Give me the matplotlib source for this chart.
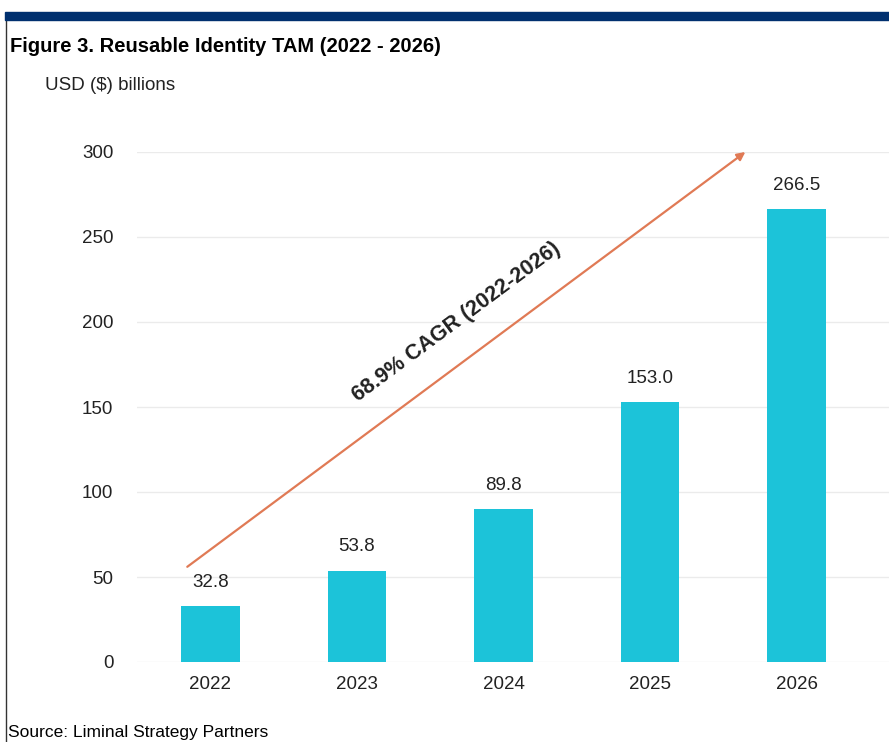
import matplotlib
matplotlib.use("Agg")
import matplotlib.pyplot as plt
from matplotlib.patches import Rectangle
from matplotlib.lines import Line2D

years = ["2022", "2023", "2024", "2025", "2026"]
values = [32.8, 53.8, 89.8, 153.0, 266.5]
yticks = [0, 50, 100, 150, 200, 250, 300]
title = "Figure 3. Reusable Identity TAM (2022 - 2026)"
unit_label = "USD ($) billions"
cagr_label = "68.9% CAGR (2022-2026)"
source = "Source: Liminal Strategy Partners"

narrow = ["Liberation Sans Narrow", "Liberation Sans", "DejaVu Sans"]
plt.rcParams['font.family'] = ["Liberation Sans", "DejaVu Sans"]

fig = plt.figure(figsize=(8.89, 7.42), dpi=100)
W, H = 889, 742

# header band and frame
fig.patches.append(Rectangle((5 / W, (H - 20) / H), 1 - 5 / W, 8 / H,
                             transform=fig.transFigure, color="#00306F", zorder=5))
fig.lines.append(Line2D([5.5 / W, 5.5 / W], [0, (H - 20) / H],
                        transform=fig.transFigure, color="#333333", lw=1))

ax = fig.add_axes([137 / W, (H - 662) / H, 1 - 137 / W, (662 - 152) / H])
x = list(range(len(years)))
ax.bar(x, values, width=0.4, color="#1CC3D9", zorder=3)
for xi, v in zip(x, values):
    ax.text(xi, v + 9, f"{v:.1f}", ha="center", va="bottom", fontsize=13.5, color="#222222")

ax.set_xlim(-0.5, 4.63)
ax.set_ylim(0, 300)
ax.set_yticks(yticks)
ax.set_xticks(x)
ax.set_xticklabels(years)
ax.tick_params(axis="both", length=0, labelsize=13.5, colors="#222222")
ax.tick_params(axis="y", pad=17)
ax.tick_params(axis="x", pad=10)
ax.yaxis.grid(True, color="#EBEBEB", lw=1, zorder=0)
for s in ax.spines.values():
    s.set_visible(False)
ax.set_axisbelow(True)

# CAGR arrow
ax.annotate("", xy=(3.65, 300), xytext=(-0.157, 56),
            arrowprops=dict(arrowstyle="-|>", color="#E07A55", lw=1.6,
                            mutation_scale=12, shrinkA=0, shrinkB=0), zorder=4)
ax.text(1.68, 200, cagr_label, rotation=36.6, rotation_mode="anchor",
        ha="center", va="center", fontsize=15.5, fontweight="bold", color="#222222")

fig.text(10 / W, (H - 47) / H, title, fontsize=14.5, fontweight="bold",
         family=narrow, va="center", ha="left", color="#000000")
fig.text(45 / W, (H - 85) / H, unit_label, fontsize=13.5, va="center", ha="left",
         color="#222222")
fig.text(8 / W, (H - 733) / H, source, fontsize=12.5, family=narrow,
         va="center", ha="left", color="#000000")

fig.savefig("out.png", dpi=100)
